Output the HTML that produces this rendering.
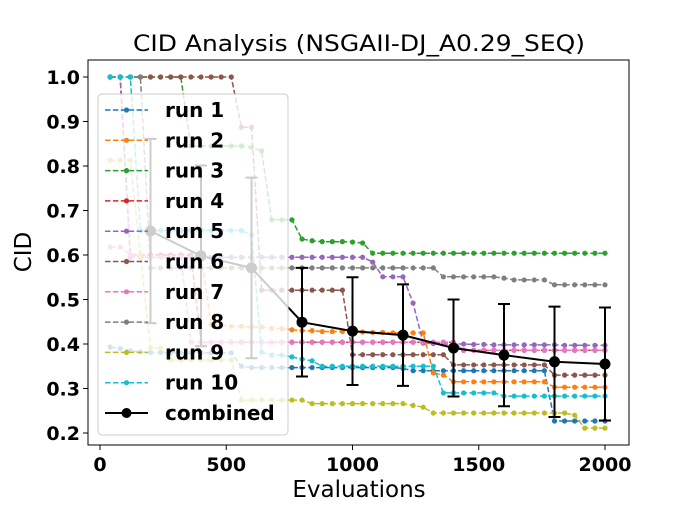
<!DOCTYPE html>
<html><head><meta charset="utf-8"><style>
body{margin:0;background:#fff}
svg text{font-family:"DejaVu Sans","Liberation Sans",sans-serif}
</style></head><body>
<svg id="chart" width="700" height="500" viewBox="0 0 700 500" xmlns="http://www.w3.org/2000/svg">
<rect width="700" height="500" fill="#fff"/>
<text x="359" y="51" font-size="22" text-anchor="middle" textLength="452" lengthAdjust="spacingAndGlyphs">CID Analysis (NSGAII-DJ_A0.29_SEQ)</text>
<text x="359" y="497" font-size="23" text-anchor="middle">Evaluations</text>
<text x="0" y="0" font-size="23" text-anchor="middle" transform="translate(31,252) rotate(-90)">CID</text>
<g id="ticks"></g>
<g id="series"></g>
<g id="combined"></g>
<rect x="88" y="60" width="541" height="385" fill="none" stroke="#000" stroke-width="1"/>
<g id="legend"></g>
</svg>
<script>
const evals = [];
for (let e = 40; e <= 2000; e += 40) evals.push(e);
const run1 = [0.393,0.390,0.385,0.382,0.381,0.381,0.380,0.380,0.380,0.380,0.380,0.380,0.380,0.350,0.347,0.347,0.347,0.347,0.347,0.347,0.347,0.347,0.347,0.347,0.347,0.347,0.347,0.347,0.347,0.345,0.340,0.340,0.340,0.340,0.340,0.340,0.340,0.340,0.340,0.340,0.340,0.340,0.340,0.340,0.227,0.227,0.227,0.227,0.227,0.227];
const run2 = [1.0,1.0,0.600,0.600,0.600,0.600,0.600,0.600,0.600,0.600,0.443,0.443,0.440,0.440,0.438,0.438,0.435,0.435,0.432,0.430,0.430,0.428,0.428,0.428,0.427,0.427,0.426,0.426,0.425,0.425,0.425,0.425,0.335,0.330,0.315,0.315,0.315,0.315,0.315,0.315,0.315,0.315,0.315,0.315,0.303,0.303,0.303,0.303,0.303,0.303];
const run3 = [1.0,1.0,1.0,1.0,1.0,1.0,1.0,1.0,0.845,0.845,0.845,0.845,0.845,0.845,0.842,0.834,0.679,0.679,0.679,0.636,0.632,0.630,0.630,0.630,0.629,0.627,0.604,0.604,0.604,0.604,0.604,0.604,0.604,0.604,0.604,0.604,0.604,0.604,0.604,0.604,0.604,0.604,0.604,0.604,0.604,0.604,0.604,0.604,0.604,0.604];
const run4 = [1.0,1.0,0.600,0.600,0.600,0.600,0.600,0.600,0.600,0.404,0.404,0.404,0.404,0.404,0.404,0.404,0.404,0.404,0.404,0.404,0.404,0.404,0.404,0.404,0.404,0.404,0.404,0.404,0.404,0.404,0.404,0.404,0.404,0.404,0.404,0.386,0.386,0.386,0.386,0.386,0.386,0.386,0.386,0.386,0.386,0.386,0.386,0.386,0.386,0.386];
const run5 = [1.0,1.0,0.595,0.595,0.595,0.595,0.595,0.595,0.595,0.595,0.595,0.595,0.595,0.595,0.595,0.595,0.595,0.595,0.595,0.595,0.595,0.595,0.595,0.595,0.595,0.595,0.584,0.551,0.551,0.551,0.492,0.402,0.401,0.400,0.400,0.400,0.399,0.399,0.398,0.398,0.398,0.398,0.398,0.398,0.398,0.397,0.397,0.397,0.397,0.397];
const run6 = [1.0,1.0,1.0,1.0,1.0,1.0,1.0,1.0,1.0,1.0,1.0,1.0,1.0,0.887,0.887,0.521,0.521,0.521,0.521,0.521,0.521,0.521,0.521,0.521,0.376,0.376,0.376,0.376,0.376,0.376,0.376,0.376,0.376,0.376,0.353,0.353,0.353,0.353,0.353,0.353,0.353,0.353,0.353,0.353,0.330,0.330,0.330,0.330,0.330,0.330];
const run7 = [0.618,0.618,0.600,0.597,0.595,0.595,0.595,0.595,0.404,0.404,0.404,0.404,0.404,0.404,0.404,0.404,0.404,0.404,0.404,0.404,0.404,0.404,0.404,0.404,0.404,0.404,0.404,0.404,0.404,0.404,0.404,0.404,0.404,0.404,0.404,0.386,0.386,0.386,0.386,0.386,0.386,0.386,0.386,0.386,0.386,0.386,0.386,0.386,0.386,0.386];
const run8 = [1.0,1.0,1.0,1.0,0.571,0.571,0.571,0.571,0.571,0.571,0.571,0.571,0.571,0.571,0.571,0.571,0.571,0.571,0.571,0.571,0.571,0.571,0.571,0.571,0.571,0.571,0.571,0.571,0.571,0.571,0.571,0.571,0.571,0.551,0.551,0.551,0.551,0.551,0.551,0.548,0.544,0.544,0.544,0.544,0.533,0.533,0.533,0.533,0.533,0.533];
const run9 = [0.813,0.813,0.813,0.600,0.391,0.391,0.364,0.364,0.364,0.364,0.364,0.364,0.364,0.274,0.274,0.274,0.274,0.274,0.274,0.274,0.266,0.266,0.266,0.266,0.266,0.266,0.266,0.266,0.266,0.266,0.262,0.258,0.245,0.245,0.245,0.245,0.245,0.245,0.245,0.245,0.245,0.245,0.245,0.245,0.245,0.245,0.240,0.211,0.211,0.211];
const run10 = [1.0,1.0,1.0,0.655,0.655,0.655,0.655,0.655,0.655,0.655,0.655,0.655,0.655,0.655,0.645,0.382,0.375,0.375,0.371,0.366,0.362,0.350,0.350,0.350,0.350,0.350,0.350,0.350,0.350,0.350,0.350,0.350,0.350,0.290,0.290,0.290,0.290,0.290,0.290,0.283,0.283,0.283,0.283,0.283,0.283,0.283,0.283,0.283,0.283,0.283];
const combinedEvals = [200,400,600,800,1000,1200,1400,1600,1800,2000];
const combinedMean = [0.654,0.598,0.571,0.449,0.429,0.420,0.391,0.375,0.360,0.355];
const combinedStd = [0.207,0.203,0.203,0.122,0.121,0.114,0.109,0.115,0.124,0.127];
const xTicks = [0,500,1000,1500,2000];
const yTicks = [0.2,0.3,0.4,0.5,0.6,0.7,0.8,0.9,1.0];
const runNames = ["run 1","run 2","run 3","run 4","run 5","run 6","run 7","run 8","run 9","run 10"];
const runs = [run1,run2,run3,run4,run5,run6,run7,run8,run9,run10];
const colors = ["#1f77b4","#ff7f0e","#2ca02c","#d62728","#9467bd","#8c564b","#e377c2","#7f7f7f","#bcbd22","#17becf"];

const NS = "http://www.w3.org/2000/svg";
const X = e => 100 + e * 0.2525;
const Y = v => 77 + (1 - v) * 445;
function mk(tag, attrs, parent){const el=document.createElementNS(NS,tag);for(const k in attrs)el.setAttribute(k,attrs[k]);parent.appendChild(el);return el;}

const tg = document.getElementById('ticks');
xTicks.forEach(t => {
  const l = mk('line',{x1:X(t),x2:X(t),y1:445,y2:450,stroke:'#000'},tg);
  
  
  const tx = mk('text',{x:X(t),y:471,'font-size':19,'font-weight':'bold','text-anchor':'middle'},tg);
  tx.textContent = t;
  
  
});
yTicks.forEach(t => {
  const l = mk('line',{x1:83,x2:88,y1:Y(t),y2:Y(t),stroke:'#000'},tg);
  
  
  const tx = mk('text',{x:80,y:Y(t)+7,'font-size':19,'font-weight':'bold','text-anchor':'end'},tg);
  tx.textContent = t.toFixed(1);
  
  
});

const sg = document.getElementById('series');
runs.forEach((r, k) => {
  const g = mk('g',{},sg);
  
  
  const pts = r.map((v,i)=>X(evals[i]).toFixed(1)+','+Y(v).toFixed(1)).join(' ');
  mk('polyline',{points:pts,fill:'none',stroke:colors[k],'stroke-width':1.5,'stroke-dasharray':'5.5,2.4'},g);
  r.forEach((v,i)=>{
    const c = mk('circle',{cx:X(evals[i]),cy:Y(v),r:2.6,fill:colors[k]},g);
    
    
  });
});

const cg = document.getElementById('combined');


combinedEvals.forEach((e,i)=>{
  const x = X(e), t = Y(combinedMean[i]+combinedStd[i]), b = Y(combinedMean[i]-combinedStd[i]);
  const eb = mk('path',{d:`M${x},${t}V${b}M${x-6},${t}H${x+6}M${x-6},${b}H${x+6}`,stroke:'#000','stroke-width':2,fill:'none'},cg);
  
  
});
mk('polyline',{points:combinedEvals.map((e,i)=>X(e)+','+Y(combinedMean[i])).join(' '),fill:'none',stroke:'#000','stroke-width':2},cg);
combinedEvals.forEach((e,i)=>{
  const c = mk('circle',{cx:X(e),cy:Y(combinedMean[i]),r:5.5,fill:'#000'},cg);
  
  
});

const lg = document.getElementById('legend');


mk('rect',{x:98,y:94,width:190,height:341,rx:4,fill:'rgba(255,255,255,0.8)',stroke:'#ccc','stroke-width':1},lg);
const entries = runNames.concat(['combined']);
entries.forEach((n,i)=>{
  const y = 110 + i*30.3;
  const g = mk('g',{},lg);
  
  
  if (i < 10) {
    mk('line',{x1:105,x2:148,y1:y,y2:y,stroke:colors[i],'stroke-width':1.5,'stroke-dasharray':'5.5,2.4'},g);
    mk('circle',{cx:126.5,cy:y,r:2.6,fill:colors[i]},g);
  } else {
    mk('line',{x1:105,x2:148,y1:y,y2:y,stroke:'#000','stroke-width':2},g);
    mk('circle',{cx:126.5,cy:y,r:5,fill:'#000'},g);
  }
  const t = mk('text',{x:165,y:y+7,'font-size':20,'font-weight':'bold'},g);
  t.textContent = n;
});
</script>
</body></html>
